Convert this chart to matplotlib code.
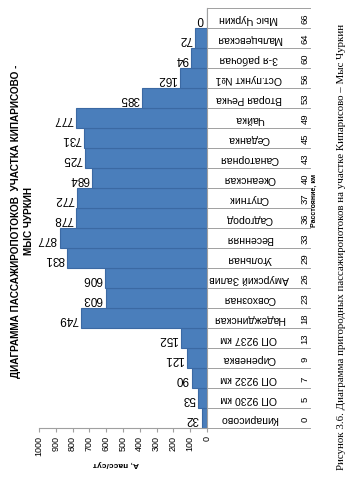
import matplotlib
matplotlib.use("Agg")
import matplotlib.pyplot as plt

# stations from Кипарисово (bottom) to Мыс Чуркин (top)
stations = ["Кипарисово", "ОП 9230 км", "ОП 9232 км", "Сиреневка", "ОП 9237 км",
            "Надеждинская", "Совхозная", "Амурский Залив", "Угольная", "Весенняя",
            "Садгород", "Спутник", "Океанская", "Санаторная", "Седанка", "Чайка",
            "Вторая Речка", "Ост.пункт №1", "3-я рабочая", "Мальцевская", "Мыс Чуркин"]
km = [0, 5, 7, 9, 13, 18, 23, 26, 29, 33, 36, 37, 40, 43, 45, 49, 53, 56, 60, 64, 66]
flow = [32, 53, 90, 121, 152, 749, 603, 606, 831, 877, 778, 772, 684, 725, 731, 777,
        385, 162, 94, 72, 0]
ticks = [0, 100, 200, 300, 400, 500, 600, 700, 800, 900, 1000]

plt.rcParams['font.family'] = ['Liberation Sans', 'DejaVu Sans']

W, H = 351, 485
fig = plt.figure(figsize=(W / 100, H / 100), dpi=100)
x0, x1 = 39, 207
y0, y1 = 9, 429
ax = fig.add_axes([x0 / W, 1 - y1 / H, (x1 - x0) / W, (y1 - y0) / H])

pos = list(range(len(stations)))
ax.barh(pos, flow, height=1.0, color='#4a7ebb', edgecolor='#3b69a3', linewidth=0.8)
ax.set_xlim(1000, 0)
ax.set_ylim(-0.5, len(stations) - 0.5)

for spine in ['left', 'top']:
    ax.spines[spine].set_visible(False)
ax.spines['bottom'].set_color('#a0a0a0')
ax.spines['right'].set_color('#a0a0a0')
ax.set_yticks([])
ax.set_xticks(ticks)
ax.set_xticklabels([str(t) for t in ticks], rotation=90, fontsize=6.5, va='top')
ax.tick_params(axis='x', length=3, color='#a0a0a0', pad=2)

# value labels
for p, v in zip(pos, flow):
    ax.annotate(str(v), (v, p), xytext=(-3, 0), textcoords='offset pixels',
                ha='right', va='center', rotation=180, fontsize=8.5)

# category table to the right of the axis
tr = ax.get_yaxis_transform()
xr = (310 - x0) / (x1 - x0)
for i in range(len(stations) + 1):
    ax.plot([1.0, xr], [i - 0.5, i - 0.5], transform=tr, color='#a0a0a0',
            lw=0.7, clip_on=False)
xname = (249 - x0) / (x1 - x0)
xkm = (305 - x0) / (x1 - x0)
for p, s, k in zip(pos, stations, km):
    ax.text(xname, p, s, transform=tr, rotation=180, ha='center', va='center',
            fontsize=7.6)
    ax.text(xkm, p, str(k), transform=tr, rotation=90, ha='center', va='center',
            fontsize=6.8)

fig.text(314 / W, 1 - 200 / H, "Расстояние, км", rotation=90, ha='center',
         va='center', fontsize=5, fontweight='bold')
fig.text(116 / W, 1 - 463 / H, "A, пасс/сут", rotation=180, ha='center',
         va='center', fontsize=6, fontweight='bold')

fig.text(22.5 / W, 1 - 221 / H,
         "ДИАГРАММА ПАССАЖИРОПОТОКОВ  УЧАСТКА КИПАРИСОВО -\nМЫС ЧУРКИН",
         rotation=90, ha='center', va='center', multialignment='center',
         fontsize=7.2, fontweight='bold', linespacing=1.4)

fig.text(342 / W, 1 - 247 / H,
         "Рисунок 3.6. Диаграмма пригородных пассажиропотоков на участке Кипарисово – Мыс Чуркин",
         rotation=90, ha='center', va='center', fontsize=7.8,
         family=['Liberation Serif', 'DejaVu Serif'])

fig.savefig("out.png", dpi=100)
